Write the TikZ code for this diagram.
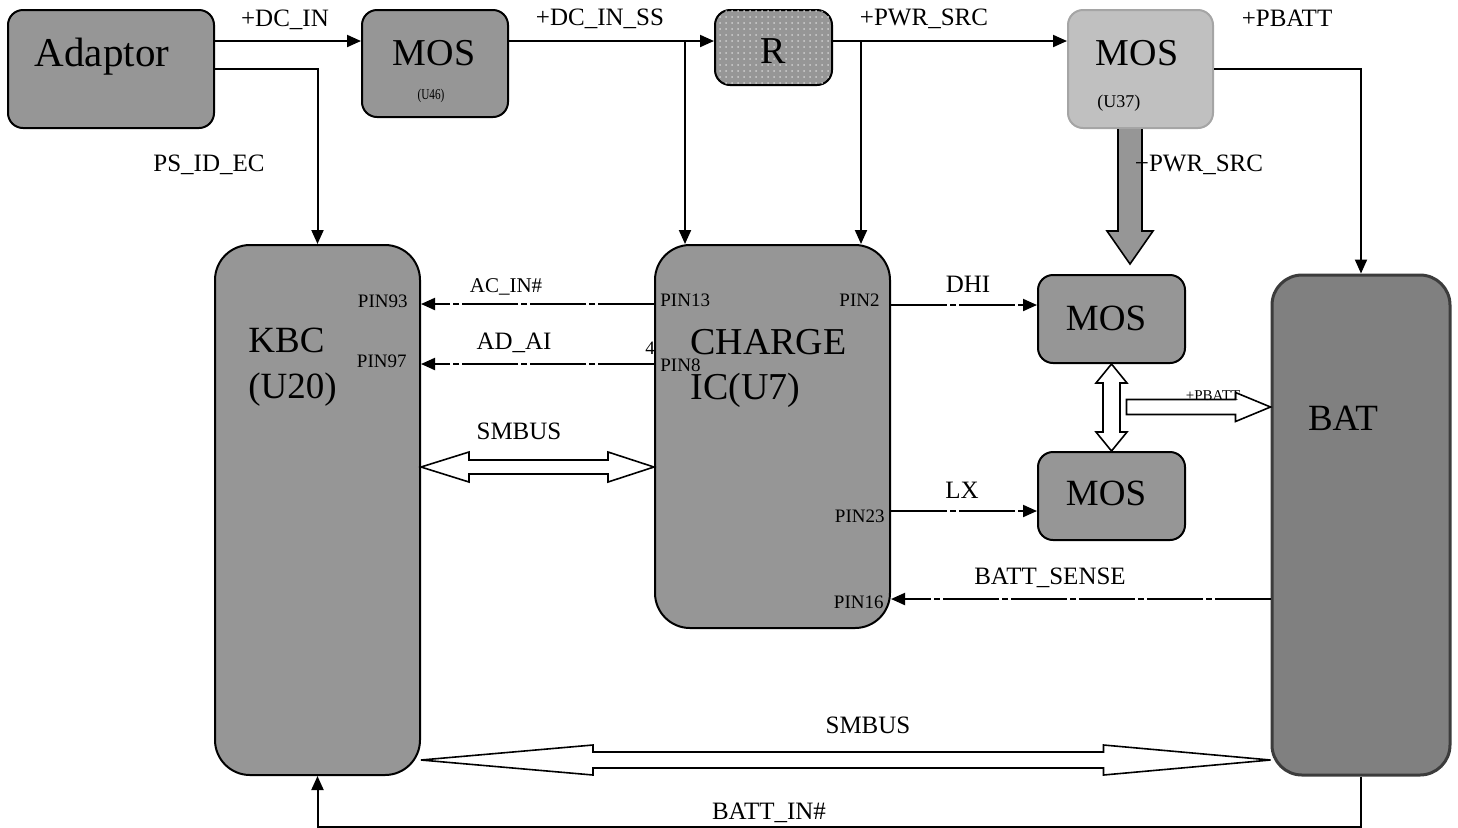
\documentclass[tikz,border=0pt]{standalone}
\usepackage{fontspec}
\usepackage{graphicx}
\setmainfont{Liberation Serif}
\usetikzlibrary{arrows.meta,calc,patterns}
\definecolor{boxgray}{RGB}{150,150,150}
\definecolor{batgray}{RGB}{128,128,128}
\definecolor{batedge}{RGB}{60,60,60}
\definecolor{lightbox}{RGB}{192,192,192}
\definecolor{lightedge}{RGB}{165,165,165}
\newcommand{\fs}[1]{\fontsize{#1}{#1}\selectfont}
\begin{document}
\begin{tikzpicture}[x=0.5pt,y=-0.5pt,
  blk/.style={draw=black,line width=1pt,fill=boxgray,rounded corners=7.5pt,inner sep=0pt},
  txt/.style={inner sep=0pt},
  lbl/.style={inner sep=0pt,font=\fs{12.5}},
  pin/.style={inner sep=0pt,font=\fs{9.5}},
  big/.style={inner sep=0pt,font=\fs{18.5}},
  wire/.style={line width=1pt,-{Triangle[length=7pt,width=6pt]}},
  sig/.style={wire,dash pattern=on 28pt off 1.5pt on 3pt off 1.5pt},
  hollow/.style={draw=black,line width=0.8pt,fill=white,line join=miter},
]
\useasboundingbox (0,0) rectangle (1458,827);

% blocks
\node[blk,minimum width=103pt,minimum height=59pt] (adaptor) at (111,69) {};
\node[blk,minimum width=73pt,minimum height=53.5pt] (mos46) at (435,63.5) {};
\node[blk,minimum width=58.5pt,minimum height=37.5pt,postaction={pattern=dots,pattern color=white!55!boxgray}] (rbox) at (773.5,47.5) {};
\node[blk,draw=lightedge,fill=lightbox,minimum width=72.5pt,minimum height=59pt] (mos37) at (1140.5,69) {};
\node[blk,rounded corners=17.5pt,minimum width=102.5pt,minimum height=265pt] (kbc) at (317.5,510) {};
\node[blk,rounded corners=17.5pt,minimum width=117.5pt,minimum height=191.5pt] (chg) at (772.5,436.5) {};
\node[blk,minimum width=73.5pt,minimum height=44pt] (mos1) at (1111.5,319) {};
\node[blk,minimum width=73.5pt,minimum height=44pt] (mos2) at (1111.5,496) {};
\node[blk,draw=batedge,line width=1.5pt,fill=batgray,rounded corners=15pt,minimum width=89pt,minimum height=250pt] (bat) at (1361,525) {};

% top power path
\coordinate (c1) at ([yshift=14pt]adaptor.east);
\draw[wire] (c1) -- (c1 -| mos46.west);
\coordinate (c2) at ([yshift=11.25pt]mos46.east);
\draw[wire] (c2) -- (c2 -| rbox.west);
\coordinate (c3) at ([yshift=3.25pt]rbox.east);
\draw[wire] (c3) -- (c3 -| mos37.west);
\coordinate (t1) at ([xshift=-43.75pt]chg.north);
\draw[wire] (t1 |- c2) -- (t1);
\coordinate (t2) at ([xshift=44.25pt]chg.north);
\draw[wire] (t2 |- c3) -- (t2);
\draw[wire] (adaptor.east) -| (kbc.north);
\draw[wire] (mos37.east) -| (bat.north);
\draw[wire] (bat.south) -- ++(0,50) -| (kbc.south);

% signals
\coordinate (p13) at ([yshift=66.25pt]chg.west);
\draw[sig] (p13) -- (p13 -| kbc.east);
\coordinate (p8) at ([yshift=36.25pt]chg.west);
\draw[sig] (p8) -- (p8 -| kbc.east);
\coordinate (p2) at ([yshift=65.75pt]chg.east);
\draw[sig] (p2) -- (p2 -| mos1.west);
\coordinate (p23) at ([yshift=-37.25pt]chg.east);
\draw[sig] (p23) -- (p23 -| mos2.west);
\coordinate (bs) at ([yshift=-37pt]bat.west);
\draw[sig] (bs) -- (bs -| chg.east);

% hollow SMBUS arrow (KBC - CHARGE)
\coordinate (sl) at ([yshift=21.5pt]kbc.east);
\coordinate (sr) at (sl -| chg.west);
\draw[hollow] (sl) -- ($(sl)+(48,-15)$) -- ($(sl)+(48,-7)$) -- ($(sr)+(-46,-7)$) -- ($(sr)+(-46,-15)$) -- (sr)
  -- ($(sr)+(-46,15)$) -- ($(sr)+(-46,7)$) -- ($(sl)+(48,7)$) -- ($(sl)+(48,15)$) -- cycle;

% hollow SMBUS arrow (KBC - BAT)
\coordinate (bl) at ([yshift=-125pt]kbc.east);
\coordinate (br) at (bl -| bat.west);
\draw[hollow] (bl) -- ($(bl)+(172,-15)$) -- ($(bl)+(172,-8)$) -- ($(br)+(-167,-8)$) -- ($(br)+(-167,-15)$) -- (br)
  -- ($(br)+(-167,15)$) -- ($(br)+(-167,8)$) -- ($(bl)+(172,8)$) -- ($(bl)+(172,15)$) -- cycle;

% vertical hollow arrow between MOS
\coordinate (vt) at (mos1.south);
\coordinate (vb) at (mos2.north);
\draw[hollow] (vt) -- ($(vt)+(15.5,19)$) -- ($(vt)+(8.5,19)$) -- ($(vb)+(8.5,-19)$) -- ($(vb)+(15.5,-19)$) -- (vb)
  -- ($(vb)+(-15.5,-19)$) -- ($(vb)+(-8.5,-19)$) -- ($(vt)+(-8.5,19)$) -- ($(vt)+(-15.5,19)$) -- cycle;

% +PBATT hollow arrow to BAT
\coordinate (pb) at ([yshift=59pt]bat.west);
\coordinate (ptail) at ($(pb -| mos1.south)+(15,0)$);
\draw[hollow] ($(ptail)+(0,-7.5)$) -- ($(pb)+(-35,-7.5)$) -- ($(pb)+(-35,-14.5)$) -- (pb)
  -- ($(pb)+(-35,14.5)$) -- ($(pb)+(-35,7.5)$) -- ($(ptail)+(0,7.5)$) -- cycle;

% thick gray arrow from MOS(U37)
\coordinate (fa) at ([xshift=-5.25pt]mos37.south);
\draw[draw=black,line width=0.8pt,fill=boxgray,line join=miter] ($(fa)+(-12,0)$) -- ($(fa)+(-12,102)$) -- ($(fa)+(-23,102)$)
  -- ($(fa)+(0,135)$) -- ($(fa)+(23,102)$) -- ($(fa)+(12,102)$) -- ($(fa)+(12,0)$);

% block texts
\node[txt,font=\fs{20.5},anchor=base] at (102,66) {Adaptor};
\node[txt,font=\fs{19},anchor=base] at (434,65) {MOS};
\node[txt,font=\fs{7.5},anchor=base] at (431,99) {\scalebox{0.75}[1]{(U46)}};
\node[txt,font=\fs{19},anchor=base] at (773,63) {R};
\node[txt,font=\fs{19},anchor=base] at (1137,65) {MOS};
\node[txt,font=\fs{9},anchor=base west] at (1097,107) {(U37)};
\node[big,anchor=west] at (248,340) {KBC};
\node[big,anchor=west] at (248,390) {(U20)};
\node[big,font=\fs{19},anchor=west] at (690,342) {CHARGE};
\node[big,font=\fs{19},anchor=west] at (690,390) {IC(U7)};
\node[big] at (1106,318) {MOS};
\node[big] at (1106,493) {MOS};
\node[big] at (1343,418) {BAT};

% pin labels
\node[pin,anchor=east] at (408,301) {PIN93};
\node[pin,anchor=east] at (407,361) {PIN97};
\node[pin,anchor=west] at (660,300) {PIN13};
\node[pin,anchor=west] at (660,365) {PIN8};
\node[pin,anchor=east] at (880,300) {PIN2};
\node[pin,anchor=east] at (885,516) {PIN23};
\node[pin,anchor=east] at (884,602) {PIN16};
\node[pin] at (650,348) {4};

% signal labels
\node[lbl] at (285,20) {+DC\_IN};
\node[lbl] at (600,19) {+DC\_IN\_SS};
\node[lbl] at (924,19) {+PWR\_SRC};
\node[lbl] at (1287,18) {+PBATT};
\node[lbl] at (209,165) {PS\_ID\_EC};
\node[lbl] at (1199,165) {+PWR\_SRC};
\node[inner sep=0pt,font=\fs{10.5}] at (506,287) {AC\_IN\#};
\node[lbl] at (514,343) {AD\_AI};
\node[lbl] at (519,431) {SMBUS};
\node[lbl] at (968,284) {DHI};
\node[lbl] at (962,490) {LX};
\node[lbl] at (1050,578) {BATT\_SENSE};
\node[lbl] at (868,725) {SMBUS};
\node[lbl] at (769,813) {BATT\_IN\#};
\node[inner sep=0pt,font=\fs{7.5}] at (1213,396) {+PBATT};
\end{tikzpicture}
\end{document}
